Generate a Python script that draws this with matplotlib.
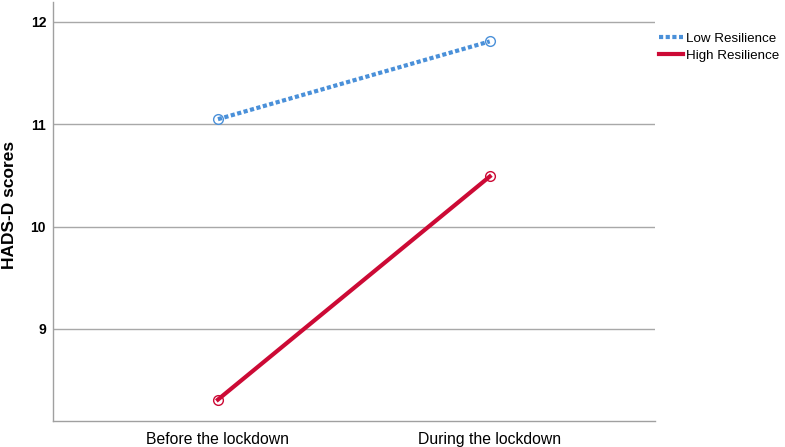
import matplotlib.pyplot as plt

# values
periods = ["Before the lockdown", "During the lockdown"]
low_res = [11.05, 11.81]
high_res = [8.31, 10.49]
yticks = [9, 10, 11, 12]

plt.rcParams['font.family'] = ['Liberation Sans', 'DejaVu Sans']

fig = plt.figure(figsize=(7.85, 4.47), dpi=100)
ax = fig.add_axes([0.0675, 0.058, 0.7665, 0.9375])

x = range(len(periods))
ax.plot(x, low_res, color='#4a90d9', lw=3, ls=(0, (1, 0.6)),
        marker='o', ms=7, mfc='none', mew=1, label='Low Resilience')
ax.plot(x, high_res, color='#cc0a35', lw=3, ls='-',
        marker='o', ms=7, mfc='none', mew=1, label='High Resilience')

ax.set_xlim(-0.607, 1.607)
ax.set_ylim(8.1, 12.195)
ax.set_xticks(list(x))
ax.set_xticklabels(periods, fontsize=11.3)
ax.set_yticks(yticks)
ax.set_yticklabels([str(t) for t in yticks], fontsize=10, fontweight='bold')
ax.tick_params(length=0)
ax.tick_params(axis='y', pad=5)
ax.tick_params(axis='x', pad=8)
ax.set_ylabel('HADS-D scores', fontsize=12.5, fontweight='bold')
ax.yaxis.set_label_coords(-0.06, 0.515)

ax.yaxis.grid(True, color='#a8a8a8', lw=1)
ax.set_axisbelow(True)
for s in ['top', 'right']:
    ax.spines[s].set_visible(False)
for s in ['left', 'bottom']:
    ax.spines[s].set_color('#a0a0a0')
    ax.spines[s].set_linewidth(1)

leg = ax.legend(loc='upper left', bbox_to_anchor=(0.998, 0.94), frameon=False,
                fontsize=9.6, handlelength=1.8, handletextpad=0.25,
                labelspacing=0.35, borderaxespad=0.0)
for h in leg.get_lines():
    h.set_marker('')

fig.savefig('out.png', dpi=100)
